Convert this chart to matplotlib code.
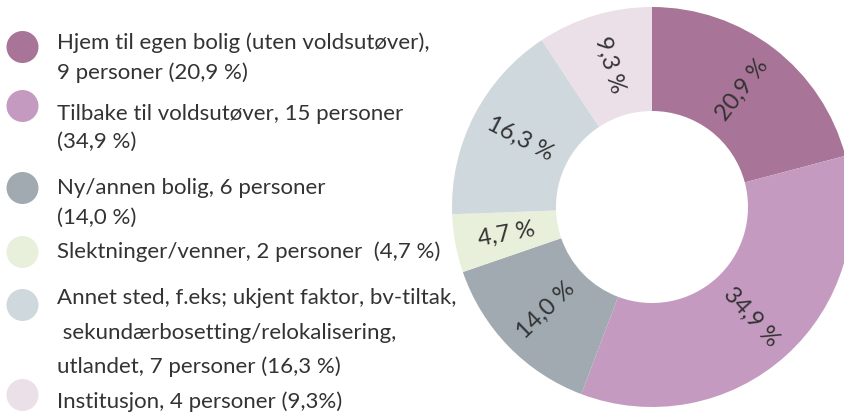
import numpy as np
import matplotlib
matplotlib.use("Agg")
import matplotlib.pyplot as plt
from matplotlib.patches import Circle

plt.rcParams['font.family'] = ['Lato', 'DejaVu Sans']

# data
kategorier = [
    ["Hjem til egen bolig (uten voldsutøver),", "9 personer (20,9 %)"],
    ["Tilbake til voldsutøver, 15 personer", "(34,9 %)"],
    ["Ny/annen bolig, 6 personer", "(14,0 %)"],
    ["Slektninger/venner, 2 personer  (4,7 %)"],
    ["Annet sted, f.eks; ukjent faktor, bv-tiltak,", " sekundærbosetting/relokalisering,",
     "utlandet, 7 personer (16,3 %)"],
    ["Institusjon, 4 personer (9,3%)"],
]
andel = [20.9, 34.9, 14.0, 4.7, 16.3, 9.3]
etiketter = ["20,9 %", "34,9 %", "14,0 %", "4,7 %", "16,3 %", "9,3 %"]
farger = ['#A87498', '#C59AC1', '#A0AAB0', '#E8F0DC', '#CFD8DD', '#EBDFE8']

tekstfarge = '#333333'

W, H = 845, 412
fig = plt.figure(figsize=(W / 100, H / 100), dpi=100)
fig.patch.set_facecolor('white')

# legend drawn in pixel coords
ax_leg = fig.add_axes([0, 0, 1, 1])
ax_leg.set_xlim(0, W)
ax_leg.set_ylim(H, 0)
ax_leg.axis('off')

sirkel_y = [47, 106, 188, 252, 305, 395]
linje_y = [[43, 73], [114, 142], [188, 218], [252], [298, 333, 367], [402]]
for i, linjer in enumerate(kategorier):
    ax_leg.add_patch(Circle((22.5, sirkel_y[i]), 16, color=farger[i], lw=0))
    for j, linje in enumerate(linjer):
        ax_leg.text(57, linje_y[i][j], linje, fontsize=16, color=tekstfarge,
                    va='center', ha='left')

# donut
cx, cy, r = 652, 207, 200
ax = fig.add_axes([(cx - r) / W, (H - cy - r) / H, 2 * r / W, 2 * r / H])
wedges, _ = ax.pie(andel, colors=farger, startangle=90, counterclock=False,
                   radius=1.0, wedgeprops=dict(width=0.52, linewidth=0))
ax.set_xlim(-1, 1)
ax.set_ylim(-1, 1)
ax.set_aspect('equal')

for w, lab in zip(wedges, etiketter):
    vinkel = (w.theta1 + w.theta2) / 2
    rad = np.deg2rad(vinkel)
    x = 0.74 * np.cos(rad)
    y = 0.74 * np.sin(rad)
    rot = vinkel if np.cos(rad) >= 0 else vinkel + 180
    ax.text(x, y, lab, rotation=rot, rotation_mode='anchor', ha='center', va='center',
            fontsize=17, color=tekstfarge)

fig.savefig('out.png', dpi=100)
